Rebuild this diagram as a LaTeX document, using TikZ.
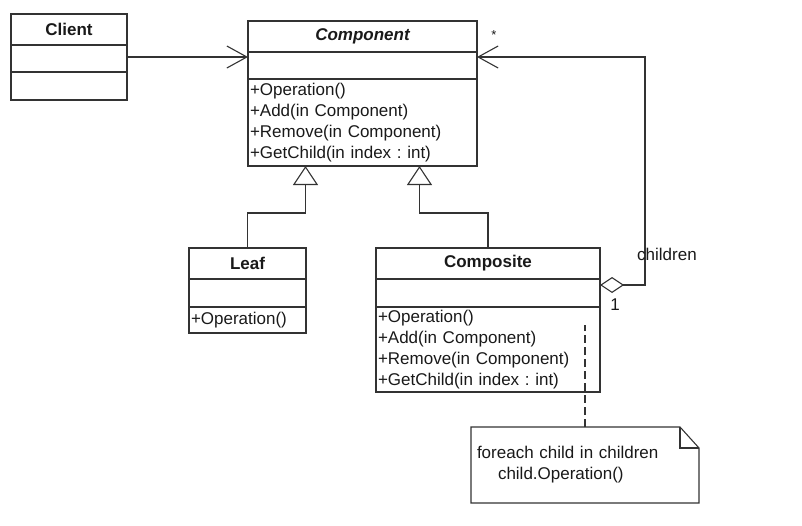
\documentclass[tikz,border=0pt]{standalone}
\usepackage{fontspec}
\setmainfont{Liberation Sans}
\usetikzlibrary{positioning,arrows.meta}
\newcommand{\umlfont}{\fontsize{17}{21}\selectfont}
\frenchspacing

\begin{document}
\begin{tikzpicture}[x=1pt,y=-1pt,font=\umlfont,line width=1.1pt,draw=black!80,text=black!90]
    \tikzstyle{box}=[draw=black!80,rectangle,outer sep=0pt,inner sep=0pt]
    \tikzstyle{ops}=[box,align=left,inner xsep=2pt,inner ysep=0pt]
    \tikzstyle{gen}=[-{Triangle[open,length=19pt,width=25pt]}]
    \tikzstyle{nav}=[-{Straight Barb[length=20pt,width=22pt]}]

    \useasboundingbox (0,0) rectangle (802,525);

    \node[box,minimum width=116pt,minimum height=31pt,font=\umlfont\bfseries](cl_name) at (69,29.5) {Client};
    \node[box,minimum width=116pt,minimum height=27pt,below=0pt of cl_name](cl_attr) {};
    \node[box,minimum width=116pt,minimum height=28pt,below=0pt of cl_attr](cl_ops) {};

    \node[box,minimum width=229pt,minimum height=31pt,font=\umlfont\bfseries\itshape](co_name) at (362.5,36.5) {Component};
    \node[box,minimum width=229pt,minimum height=27pt,below=0pt of co_name](co_attr) {};
    \node[ops,text width=225pt,minimum height=87pt,below=0pt of co_attr](co_ops) {+Operation()\\+Add(in Component)\\+Remove(in Component)\\+GetChild(in index : int)};

    \node[box,minimum width=117pt,minimum height=31pt,font=\umlfont\bfseries](lf_name) at (247.5,263.5) {Leaf};
    \node[box,minimum width=117pt,minimum height=28pt,below=0pt of lf_name](lf_attr) {};
    \node[ops,text width=113pt,minimum height=26pt,below=0pt of lf_attr](lf_ops) {+Operation()};

    \node[box,minimum width=224pt,minimum height=31pt,font=\umlfont\bfseries](cp_name) at (488,263.5) {Composite};
    \node[box,minimum width=224pt,minimum height=28pt,below=0pt of cp_name](cp_attr) {};
    \node[ops,text width=220pt,minimum height=85pt,below=0pt of cp_attr](cp_ops) {+Operation()\\+Add(in Component)\\+Remove(in Component)\\+GetChild(in index : int)};

    \node[outer sep=0pt,minimum width=228pt,minimum height=76pt,text width=216pt,inner xsep=6pt,align=left](note) at (585,465) {foreach child in children\\\hspace*{21pt}child.Operation()};
    \draw (note.north west) -- ([xshift=-19pt]note.north east) -- ([yshift=-21pt]note.north east) -- (note.south east) -- (note.south west) -- cycle;
    \draw ([xshift=-19pt]note.north east) |- ([yshift=-21pt]note.north east);

    \coordinate (cl_out) at ([yshift=1.5pt]cl_attr.east);
    \draw[nav] (cl_out) -- (cl_out -| co_attr.west);

    \coordinate (cp_out) at ([yshift=8pt]cp_attr.east);
    \coordinate (co_in) at ([yshift=8.5pt]co_attr.east);
    \draw[{Diamond[open,length=24pt,width=16pt]}-{Straight Barb[length=20pt,width=22pt]}] (cp_out) -- ++(45,0) |- (co_in);
    \node(star) at (494,35) {\fontsize{13}{13}\selectfont *};
    \node(children) at (667,254) {children};
    \node(one) at (615,305) {1};

    \coordinate (gen_l) at ([xshift=-57pt]co_ops.south);
    \coordinate (gen_r) at ([xshift=57pt]co_ops.south);
    \draw[gen] (lf_name.north) -- ++(0,-35) -| (gen_l);
    \draw[gen] (cp_name.north) -- ++(0,-35) -| (gen_r);

    \coordinate (cp_anchor) at ([xshift=-15pt,yshift=-18pt]cp_ops.north east);
    \draw[dash pattern=on 8pt off 4pt] (note.north) -- (cp_anchor);

\end{tikzpicture}
\end{document}
